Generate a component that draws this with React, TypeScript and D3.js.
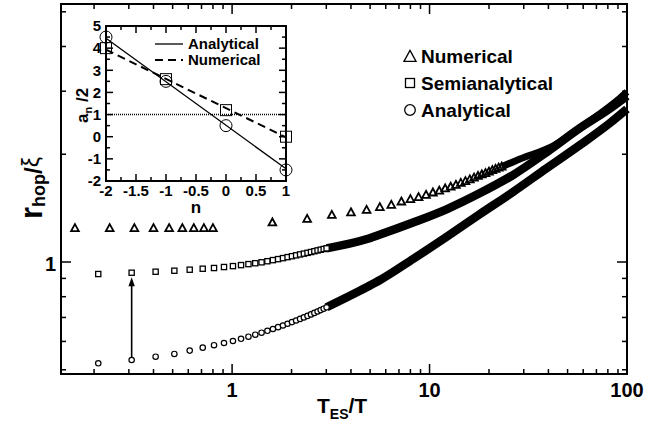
import React from 'react';
import * as d3 from 'd3';

const W = 645;
const H = 428;
const FONT = "'Liberation Sans', Arial, Helvetica, sans-serif";

// ---- Main panel data (T_ES/T vs r_hop/xi) ----
// Numerical (triangles)
const numX = [0.16, 0.24, 0.32, 0.4, 0.48, 0.56, 0.64, 0.72, 0.8,
  1.6, 2.4, 3.2, 4.0, 4.8, 5.6, 6.4, 7.2, 8.0, 8.8, 9.6, 10.4, 11.2, 12.0, 12.8, 13.6,
  14.4, 15.2, 16.0, 16.8, 17.6, 18.4, 19.2, 20.0, 20.8, 21.6, 22.4, 23.2];
const numY = [1.242, 1.242, 1.242, 1.242, 1.242, 1.242, 1.242, 1.242, 1.242,
  1.288, 1.318, 1.353, 1.375, 1.397, 1.422, 1.443, 1.474, 1.497, 1.516, 1.539, 1.562, 1.58, 1.603, 1.621, 1.641,
  1.661, 1.68, 1.7, 1.719, 1.737, 1.754, 1.77, 1.786, 1.803, 1.818, 1.832, 1.846];
// dense part, where the triangles merge into a band
const numBandX = [23.2, 28.7, 42.2, 62.7, 92.2, 100];
const numBandY = [1.846, 1.94, 2.109, 2.445, 2.871, 2.985];

// Semianalytical (squares) and Analytical (circles) share the same x grid
const gridX = [0.21, 0.31, 0.41, 0.51, 0.61, 0.71, 0.81, 0.91, 1.01, 1.11, 1.21, 1.31, 1.41, 1.51,
  1.61, 1.71, 1.81, 1.91, 2.01, 2.11, 2.21, 2.31, 2.41, 2.51, 2.61, 2.71, 2.81, 2.91, 3.01];
const semiY = [0.9257, 0.9335, 0.9395, 0.9456, 0.9517, 0.9578, 0.9621, 0.9683, 0.974, 0.9803, 0.9866,
  0.9923, 0.9981, 1.0051, 1.0123, 1.0188, 1.0254, 1.032, 1.038, 1.044, 1.0501, 1.0555, 1.0609, 1.0664,
  1.0719, 1.0775, 1.0823, 1.0872, 1.0921];
const anaY = [0.5212, 0.5325, 0.5439, 0.5535, 0.5657, 0.5764, 0.5856, 0.5939, 0.6016, 0.6103, 0.6185,
  0.6266, 0.6347, 0.6425, 0.65, 0.6577, 0.6648, 0.6722, 0.6795, 0.6864, 0.6936, 0.7002, 0.707, 0.7139,
  0.7208, 0.7273, 0.7339, 0.7405, 0.7474];
// dense part, where squares and circles merge into bands
const bandX = [3.01, 4.826, 5.616, 8.25, 12.27, 18.02, 26.47, 39.34, 57.81, 82.0, 100];
const semiBandY = [1.0921, 1.159, 1.193, 1.289, 1.406, 1.558, 1.75, 2.029, 2.367, 2.685, 2.909];
const anaBandY = [0.7474, 0.8514, 0.8906, 1.0195, 1.1782, 1.3617, 1.569, 1.831, 2.122, 2.445, 2.676];

// arrow from analytical to semianalytical point
const arrowX = 0.31;
const arrowFrom = 0.5325;
const arrowTo = 0.9335;

const xMajor = [1, 10, 100];
const xMajorLabels = ['1', '10', '100'];
const xMinor = [0.2, 0.3, 0.4, 0.5, 0.6, 0.7, 0.8, 0.9, 2, 3, 4, 5, 6, 7, 8, 9, 20, 30, 40, 50, 60, 70, 80, 90];
const yMajor = [1];
const yMajorLabels = ['1'];
const yMinor = [0.5, 0.6, 0.7, 0.8, 0.9, 2, 3, 4, 5];

const legendNames = ['Numerical', 'Semianalytical', 'Analytical'];

// ---- Inset data (n vs a_n/2) ----
const insetN = [-2, -1, 0, 1];
const insetAnalytical = [4.5, 2.5, 0.5, -1.5];
const insetNumerical = [4.0, 2.6, 1.2, 0.0];
const fitN = [-2, 1];
const fitAnalytical = [4.45, -1.45];
const fitNumerical = [3.93, -0.03];
const insetRef = 1;
const insetXMajor = [-2, -1.5, -1, -0.5, 0, 0.5, 1];
const insetXLabels = ['-2', '-1.5', '-1', '-0.5', '0', '0.5', '1'];
const insetXMinor = [-1.75, -1.25, -0.75, -0.25, 0.25, 0.75];
const insetYMajor = [-2, -1, 0, 1, 2, 3, 4, 5];
const insetYLabels = ['-2', '-1', '0', '1', '2', '3', '4', '5'];
const insetYMinor = [-1.5, -0.5, 0.5, 1.5, 2.5, 3.5, 4.5];
const insetLegend = ['Analytical', 'Numerical'];

const zip = (a: number[], b: number[]) => a.map((v, i) => [v, b[i]] as [number, number]);

export default function App() {
  const L = 61, R = 627, T = 4, B = 374;
  const x = d3.scaleLog().domain([0.136, 100]).range([L, R]);
  const y = d3.scaleLog().domain([0.4866, 5.257]).range([B, T]);

  const iL = 106, iR = 286, iT = 26, iB = 181;
  const xi = d3.scaleLinear().domain([-2, 1]).range([iL, iR]);
  const yi = d3.scaleLinear().domain([-2, 5]).range([iB, iT]);

  const band = d3.line<[number, number]>().x(d => x(d[0])).y(d => y(d[1])).curve(d3.curveMonotoneX);
  const iline = d3.line<[number, number]>().x(d => xi(d[0])).y(d => yi(d[1]));

  const tri = (s: number) => `M0,${-s * 0.6}L${s * 0.55},${s * 0.4}L${-s * 0.55},${s * 0.4}Z`;

  const ax = x(arrowX);
  const a0 = y(arrowFrom) - 3;
  const a1 = y(arrowTo) + 4.5;

  return (
    <svg width={W} height={H} style={{ position: 'absolute', left: 0, top: 0, background: '#fff' }}
      fontFamily={FONT} fontWeight="bold">
      <rect x={0} y={0} width={W} height={H} fill="#fff" />

      {/* main ticks */}
      <g stroke="#000" strokeWidth={1.5}>
        {xMajor.map(v => (
          <g key={'xM' + v}>
            <line x1={x(v)} x2={x(v)} y1={B} y2={B - 10} />
            <line x1={x(v)} x2={x(v)} y1={T} y2={T + 10} />
          </g>
        ))}
        {xMinor.map(v => (
          <g key={'xm' + v}>
            <line x1={x(v)} x2={x(v)} y1={B} y2={B - 5} />
            <line x1={x(v)} x2={x(v)} y1={T} y2={T + 5} />
          </g>
        ))}
        {yMajor.map(v => (
          <g key={'yM' + v}>
            <line x1={L} x2={L + 10} y1={y(v)} y2={y(v)} />
            <line x1={R} x2={R - 10} y1={y(v)} y2={y(v)} />
          </g>
        ))}
        {yMinor.map(v => (
          <g key={'ym' + v}>
            <line x1={L} x2={L + 5} y1={y(v)} y2={y(v)} />
            <line x1={R} x2={R - 5} y1={y(v)} y2={y(v)} />
          </g>
        ))}
      </g>

      {/* tick labels */}
      {xMajor.map((v, i) => (
        <text key={'xl' + v} x={x(v)} y={397} fontSize={20} textAnchor="middle">{xMajorLabels[i]}</text>
      ))}
      {yMajor.map((v, i) => (
        <text key={'yl' + v} x={56} y={y(v) + 2} fontSize={20} textAnchor="end" dy="0.35em">{yMajorLabels[i]}</text>
      ))}

      {/* axis titles */}
      <text x={317} y={413} fontSize={21}>
        T<tspan fontSize={14} dy={6}>ES</tspan><tspan dy={-6}>/T</tspan>
      </text>
      <g transform="translate(42,219) rotate(-90)">
        <text x={0} y={0} fontSize={31}>
          r<tspan fontSize={18} dy={3}>hop</tspan><tspan fontSize={24} dy={-3}>/</tspan><tspan fontSize={23} fontWeight="normal" dy={-3}>ξ</tspan>
        </text>
      </g>

      {/* bands (dense markers) */}
      <g fill="none" stroke="#000" strokeLinecap="butt">
        <path d={band(zip(bandX, anaBandY)) || ''} strokeWidth={8.5} />
        <path d={band(zip(bandX, semiBandY)) || ''} strokeWidth={8.5} />
        <path d={band(zip(numBandX, numBandY)) || ''} strokeWidth={7} />
      </g>

      {/* markers */}
      <g fill="none" stroke="#000">
        {numX.map((v, i) => (
          <path key={'n' + i} d={tri(7)} transform={`translate(${x(v)},${y(numY[i])})`} strokeWidth={1.8} />
        ))}
        {gridX.map((v, i) => (
          <rect key={'s' + i} x={x(v) - 2.6} y={y(semiY[i]) - 2.6} width={5.2} height={5.2} strokeWidth={1.3} fill="#fff" />
        ))}
        {gridX.map((v, i) => (
          <circle key={'c' + i} cx={x(v)} cy={y(anaY[i])} r={2.7} strokeWidth={1.2} fill="#fff" />
        ))}
      </g>

      {/* arrow */}
      <line x1={ax} x2={ax} y1={a0} y2={a1 + 6} stroke="#000" strokeWidth={1.6} />
      <path d={`M${ax},${a1}L${ax + 3.2},${a1 + 9}L${ax - 3.2},${a1 + 9}Z`} fill="#000" />

      {/* main legend */}
      <g>
        <path d={tri(11)} transform="translate(410,57)" fill="none" stroke="#000" strokeWidth={1.3} />
        <rect x={405.5} y={78.5} width={9} height={9} fill="none" stroke="#000" strokeWidth={1.3} />
        <circle cx={410} cy={110} r={5.3} fill="none" stroke="#000" strokeWidth={1.3} />
        {legendNames.map((s, i) => (
          <text key={s} x={421} y={56 + i * 27} dy="0.35em" fontSize={19}>{s}</text>
        ))}
      </g>

      {/* main frame */}
      <rect x={L} y={T} width={R - L} height={B - T} fill="none" stroke="#000" strokeWidth={2} />

      {/* ---- inset ---- */}
      <rect x={iL} y={iT} width={iR - iL} height={iB - iT} fill="#fff" stroke="none" />
      <g stroke="#000" strokeWidth={1.5}>
        {insetXMajor.map(v => (
          <g key={'ixM' + v}>
            <line x1={xi(v)} x2={xi(v)} y1={iB} y2={iB - 7} />
            <line x1={xi(v)} x2={xi(v)} y1={iT} y2={iT + 7} />
          </g>
        ))}
        {insetXMinor.map(v => (
          <g key={'ixm' + v}>
            <line x1={xi(v)} x2={xi(v)} y1={iB} y2={iB - 4} />
            <line x1={xi(v)} x2={xi(v)} y1={iT} y2={iT + 4} />
          </g>
        ))}
        {insetYMajor.map(v => (
          <g key={'iyM' + v}>
            <line x1={iL} x2={iL + 7} y1={yi(v)} y2={yi(v)} />
            <line x1={iR} x2={iR - 7} y1={yi(v)} y2={yi(v)} />
          </g>
        ))}
        {insetYMinor.map(v => (
          <g key={'iym' + v}>
            <line x1={iL} x2={iL + 4} y1={yi(v)} y2={yi(v)} />
            <line x1={iR} x2={iR - 4} y1={yi(v)} y2={yi(v)} />
          </g>
        ))}
      </g>
      <line x1={iL} x2={iR} y1={yi(insetRef)} y2={yi(insetRef)} stroke="#000" strokeWidth={1.5} strokeDasharray="1,1" />
      <path d={iline(zip(fitN, fitAnalytical)) || ''} fill="none" stroke="#000" strokeWidth={1.3} />
      <path d={iline(zip(fitN, fitNumerical)) || ''} fill="none" stroke="#000" strokeWidth={2} strokeDasharray="8,5" />
      {insetN.map((v, i) => (
        <rect key={'ins' + i} x={xi(v) - 5.5} y={yi(insetNumerical[i]) - 5.5} width={11} height={11}
          fill="none" stroke="#000" strokeWidth={1} />
      ))}
      {insetN.map((v, i) => (
        <circle key={'inc' + i} cx={xi(v)} cy={yi(insetAnalytical[i])} r={6} fill="none" stroke="#000" strokeWidth={1} />
      ))}
      {/* inset legend */}
      <line x1={155} x2={183} y1={44} y2={44} stroke="#000" strokeWidth={1.3} />
      <line x1={155} x2={183} y1={60} y2={60} stroke="#000" strokeWidth={2} strokeDasharray="8,5" />
      {insetLegend.map((s, i) => (
        <text key={s} x={188} y={44 + i * 16} dy="0.35em" fontSize={15}>{s}</text>
      ))}
      <rect x={iL} y={iT} width={iR - iL} height={iB - iT} fill="none" stroke="#000" strokeWidth={2} />
      {insetXMajor.map((v, i) => (
        <text key={'ixl' + v} x={xi(v)} y={196} fontSize={15} textAnchor="middle">{insetXLabels[i]}</text>
      ))}
      {insetYMajor.map((v, i) => (
        <text key={'iyl' + v} x={101} y={yi(v)} dy="0.35em" fontSize={15} textAnchor="end">{insetYLabels[i]}</text>
      ))}
      <text x={196} y={213} fontSize={17} textAnchor="middle">n</text>
      <g transform="translate(88,123) rotate(-90)">
        <text x={0} y={0} fontSize={17}>
          a<tspan fontSize={11} dy={4}>n</tspan><tspan dy={-4}> /2</tspan>
        </text>
      </g>
    </svg>
  );
}
